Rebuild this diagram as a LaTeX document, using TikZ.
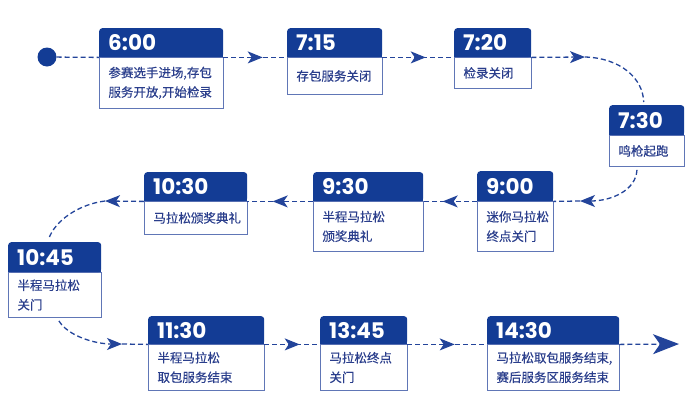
\documentclass[tikz,border=0pt]{standalone}
\usepackage{fontspec}
\newfontfamily\cjk{Noto Sans CJK SC}[FakeBold=0.35]
\newfontfamily\timefont{Poppins}
\usetikzlibrary{arrows.meta,decorations.markings}
\definecolor{hblue}{HTML}{133C95}
\definecolor{bline}{HTML}{6076B6}
\definecolor{btext}{HTML}{2A3E8C}
\definecolor{cline}{HTML}{23449A}
\tikzset{
  headbox/.style={fill=hblue, text=white, rounded corners=3pt, inner xsep=9pt, inner ysep=0pt,
    anchor=north west, font=\timefont\bfseries\fontsize{21.5}{23}\selectfont, align=left},
  bodybox/.style={draw=bline, line width=0.9pt, fill=white, text=btext, inner xsep=9pt, inner ysep=0pt,
    anchor=north west, font=\cjk\fontsize{12.5}{19.5}\selectfont, align=left},
  conn/.style={color=cline, line width=1.3pt, dash pattern=on 5pt off 3pt},
  tipA/.style={-{Stealth[length=15pt,width=12pt,inset=4pt]}},
  tipBig/.style={-{Stealth[length=26pt,width=20pt,inset=7pt]}},
  midarrow/.style={postaction={decorate}, decoration={markings,
    mark=at position 0.5 with {\arrow[xshift=7.5pt]{Stealth[length=15pt,width=12pt,inset=4pt]}}}},
  startdot/.style={circle, fill=hblue, minimum size=19pt, inner sep=0pt},
}
% name, left, top, width, header height, body height, time, text
\newcommand\tlbox[8]{%
  \node[bodybox, text width=#4pt-18pt, minimum height=#6pt] (#1-b) at (#2,{#3+#5}) {#8};
  \node[headbox, text width=#4pt-18pt, minimum height=#5pt] (#1-h) at (#2,#3) {#7};
  \fill[hblue] (#1-h.south west) rectangle ([yshift=4pt]#1-h.south east);
}
\begin{document}
\begin{tikzpicture}[x=1pt,y=-1pt]
\useasboundingbox (0,0) rectangle (700,405);
\node[startdot] (dot) at (47,57) {};
\tlbox{t600}{99}{28}{124}{29}{51}{6:00}{参赛选手进场,存包\\服务开放,开始检录}
\tlbox{t715}{287}{28}{95}{29}{37}{7:15}{存包服务关闭}
\tlbox{t720}{454}{28}{77}{29}{31}{7:20}{检录关闭}
\tlbox{t730}{609}{105}{75}{30}{31}{7:30}{鸣枪起跑}
\tlbox{t900}{477}{171}{76}{30}{50}{9:00}{迷你马拉松\\终点关门}
\tlbox{t930}{313}{172}{110}{29}{50}{9:30}{半程马拉松\\颁奖典礼}
\tlbox{t1030}{144}{172}{103}{29}{33}{10:30}{马拉松颁奖典礼}
\tlbox{t1045}{8}{242}{93}{30}{45}{10:45}{半程马拉松\\关门}
\tlbox{t1130}{148}{316}{116}{28}{46}{11:30}{半程马拉松\\取包服务结束}
\tlbox{t1345}{320}{316}{87}{28}{46}{13:45}{马拉松终点\\关门}
\tlbox{t1430}{487}{316}{132}{28}{46}{14:30}{马拉松取包服务结束,\\赛后服务区服务结束}
\coordinate (c1) at (585,57);
\coordinate (c2) at (580,201);
\coordinate (c3) at (105,201);
\coordinate (c4) at (122,344);
\coordinate (endpt) at (679,344);
\draw[conn] (dot) -- (t600-h.south west);
\draw[conn, midarrow] (t600-h.south east) -- (t715-h.south west);
\draw[conn, midarrow] (t715-h.south east) -- (t720-h.south west);
\draw[conn, tipA] (t720-h.south east) -- (c1);
\draw[conn] (c1) .. controls (620,58) and (643,78) .. ([xshift=-3pt,yshift=3pt]t730-h.north);
\draw[conn, tipA] ([xshift=-10pt,yshift=-3pt]t730-b.south) .. controls (636,190) and (612,201) .. (c2);
\draw[conn] (c2) -- (t900-h.south east);
\draw[conn, midarrow] (t900-h.south west) -- (t930-h.south east);
\draw[conn, midarrow] (t930-h.south west) -- (t1030-h.south east);
\draw[conn, tipA] (t1030-h.south west) -- (c3);
\draw[conn] (c3) .. controls (80,204) and (55,220) .. ([xshift=-6pt,yshift=3pt]t1045-h.north);
\draw[conn, tipA] ([xshift=4pt,yshift=-3pt]t1045-b.south) .. controls (68,336) and (95,344) .. (c4);
\draw[conn] (c4) -- (t1130-h.south west);
\draw[conn, midarrow] (t1130-h.south east) -- (t1345-h.south west);
\draw[conn, midarrow] (t1345-h.south east) -- (t1430-h.south west);
\draw[conn, tipBig] (t1430-h.south east) -- (endpt);
\end{tikzpicture}
\end{document}
